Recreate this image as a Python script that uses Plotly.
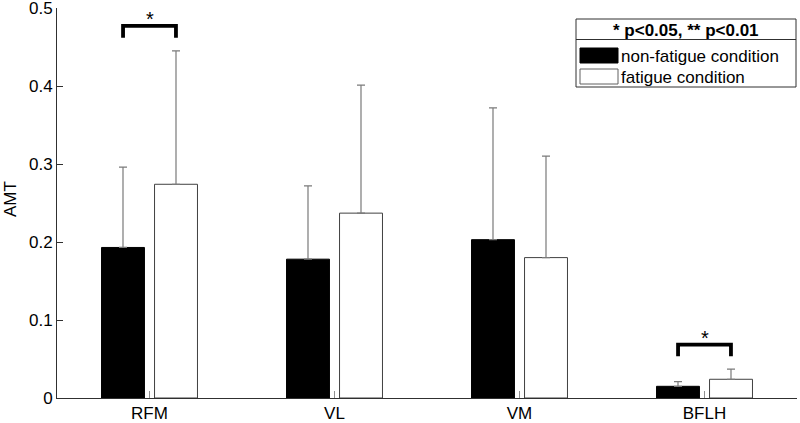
import plotly.graph_objects as go

categories = ["RFM", "VL", "VM", "BFLH"]
non_fatigue = [0.193, 0.178, 0.203, 0.015]
non_fatigue_err = [0.103, 0.094, 0.169, 0.006]
fatigue = [0.274, 0.237, 0.180, 0.024]
fatigue_err = [0.171, 0.164, 0.130, 0.013]
series_names = ["non-fatigue condition", "fatigue condition"]
legend_title = "<b>* p<0.05, ** p<0.01</b>"
y_title = "AMT"
y_ticks = [0, 0.1, 0.2, 0.3, 0.4, 0.5]
sig_pairs = [0, 3]
bracket_tops = [0.477, 0.0685]

FONT = "Liberation Sans, Arial, sans-serif"
AX = "#303030"

fig = go.Figure()
fig.add_trace(go.Bar(
    x=categories, y=non_fatigue, name=series_names[0],
    marker=dict(color="black", line=dict(color="black", width=1)),
    error_y=dict(type="data", array=non_fatigue_err, arrayminus=[0]*4, symmetric=False,
                 color="#7a7a7a", thickness=1.2, width=4),
    showlegend=False,
))
fig.add_trace(go.Bar(
    x=categories, y=fatigue, name=series_names[1],
    marker=dict(color="white", line=dict(color="#404040", width=1)),
    error_y=dict(type="data", array=fatigue_err, arrayminus=[0]*4, symmetric=False,
                 color="#7a7a7a", thickness=1.2, width=4),
    showlegend=False,
))

shapes = []
annotations = []
off = 0.143
leg = 0.015
for idx, top in zip(sig_pairs, bracket_tops):
    x0, x1 = idx - off, idx + off
    shapes.append(dict(type="path", xref="x", yref="y",
                       path=f"M {x0} {top-leg} L {x0} {top} L {x1} {top} L {x1} {top-leg}",
                       line=dict(color="black", width=3.8)))
    annotations.append(dict(x=idx, y=top, xref="x", yref="y", text="*", showarrow=False,
                            yanchor="bottom", yshift=-6, font=dict(family=FONT, size=20, color="black")))

W, H = 800, 423
L, R, T, B = 57, 3, 8, 25
pw, ph = W - L - R, H - T - B
def px(x):
    return (x - L) / pw
def py(y):
    return 1 - (y - T) / ph

shapes.append(dict(type="rect", xref="paper", yref="paper", x0=px(576), x1=px(796), y0=py(87), y1=py(19),
                   line=dict(color="#303030", width=1), fillcolor="white", layer="above"))
shapes.append(dict(type="line", xref="paper", yref="paper", x0=px(576), x1=px(796), y0=py(39.5), y1=py(39.5),
                   line=dict(color="#303030", width=1), layer="above"))
shapes.append(dict(type="rect", xref="paper", yref="paper", x0=px(580), x1=px(618), y0=py(63), y1=py(48),
                   line=dict(color="black", width=1), fillcolor="black", layer="above"))
shapes.append(dict(type="rect", xref="paper", yref="paper", x0=px(580), x1=px(618), y0=py(84), y1=py(69),
                   line=dict(color="#606060", width=1), fillcolor="white", layer="above"))
annotations.append(dict(x=px(686), y=py(30), xref="paper", yref="paper", text=legend_title, showarrow=False,
                        xanchor="center", yanchor="middle", font=dict(family=FONT, size=17, color="black")))
annotations.append(dict(x=px(619), y=py(56), xref="paper", yref="paper", text=series_names[0], showarrow=False,
                        xanchor="left", yanchor="middle", font=dict(family=FONT, size=17, color="black")))
annotations.append(dict(x=px(619), y=py(77), xref="paper", yref="paper", text=series_names[1], showarrow=False,
                        xanchor="left", yanchor="middle", font=dict(family=FONT, size=17, color="black")))
annotations.append(dict(x=px(10), y=py(199), xref="paper", yref="paper", text=y_title, showarrow=False,
                        textangle=-90, xanchor="center", yanchor="middle",
                        font=dict(family=FONT, size=17, color="black")))

fig.update_layout(
    width=W, height=H,
    margin=dict(l=L, r=R, t=T, b=B, autoexpand=False),
    paper_bgcolor="white", plot_bgcolor="white",
    barmode="group", bargap=0.427, bargroupgap=0.19,
    font=dict(family=FONT, size=17, color="black"),
    shapes=shapes, annotations=annotations,
    xaxis=dict(range=[-0.5, 3.5], showline=True, linecolor=AX, linewidth=1,
               ticks="inside", ticklen=7, tickcolor="#909090", tickwidth=1,
               showgrid=False, zeroline=False, tickfont=dict(size=17), automargin=False),
    yaxis=dict(range=[0, 0.5], tickvals=y_ticks, ticktext=["0", "0.1", "0.2", "0.3", "0.4", "0.5"],
               showline=True, linecolor=AX, linewidth=1, ticks="inside", ticklen=6, tickcolor=AX,
               showgrid=False, zeroline=False, tickfont=dict(size=17), automargin=False,
               ticklabeloverflow="allow"),
)
fig.write_html("out.html", config={"displayModeBar": False},
               post_script="document.body.style.margin='0';document.body.style.overflow='hidden';")
